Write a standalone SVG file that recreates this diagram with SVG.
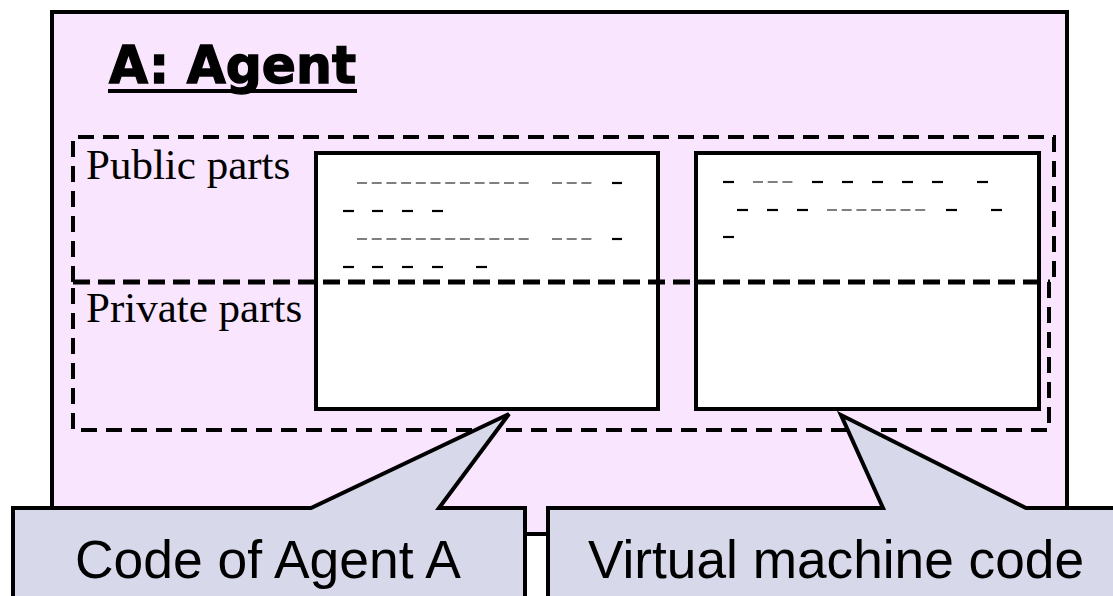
<svg xmlns="http://www.w3.org/2000/svg" width="1113" height="596" viewBox="0 0 1113 596">
  <style>
    .frame { fill: #f9e5fd; stroke: #000; stroke-width: 4; }
    .dash { fill: none; stroke: #000; stroke-width: 4; stroke-dasharray: 16 9; }
    .divide { fill: none; stroke: #000; stroke-width: 5; stroke-dasharray: 17 8; }
    .box { fill: #fff; stroke: #000; stroke-width: 4; }
    .callout { fill: #d7d8ea; stroke: #000; stroke-width: 4; stroke-linejoin: miter; }
    .part { font-family: "Liberation Serif", "Times New Roman", serif; font-size: 43px; fill: #000; }
    .note { font-family: "Liberation Sans", Arial, sans-serif; font-size: 54px; fill: #000; }
    .title { font-family: "DejaVu Sans", sans-serif; font-weight: bold; font-size: 51px; fill: #000; stroke: #000; stroke-width: 1.4; }
    .run { stroke: #555; stroke-width: 1.6; stroke-dasharray: 10 4.7; }
    .bar { stroke: #000; stroke-width: 2.2; }
  </style>

  <!-- agent frame -->
  <g id="agent">
    <rect class="frame" x="52" y="12" width="1015" height="522"/>
    <text class="title" x="109" y="83" textLength="247" lengthAdjust="spacingAndGlyphs">A: Agent</text>
    <rect x="108" y="89" width="249" height="4" fill="#000"/>
  </g>

  <!-- public part region (bottom edge is the shared divider) -->
  <g id="public-parts">
    <path class="dash" d="M73,282 V137 H1054 V282"/>
    <text class="part" x="86" y="179">Public parts</text>
  </g>

  <!-- private part region (top edge is the shared divider) -->
  <g id="private-parts">
    <path class="dash" d="M1049,282 V430 H73 V282"/>
    <text class="part" x="86" y="322">Private parts</text>
  </g>

  <!-- agent code box -->
  <g id="agent-code">
    <rect class="box" x="316" y="153" width="342" height="256"/>
    <line class="run" x1="357" y1="183" x2="530" y2="183"/>
    <line class="run" x1="552" y1="183" x2="592" y2="183"/>
    <line class="bar" x1="612" y1="183" x2="622" y2="183"/>
    <line class="bar" x1="343" y1="211" x2="354" y2="211"/>
    <line class="bar" x1="372" y1="211" x2="383" y2="211"/>
    <line class="bar" x1="402" y1="211" x2="413" y2="211"/>
    <line class="bar" x1="432" y1="211" x2="443" y2="211"/>
    <line class="run" x1="357" y1="239" x2="530" y2="239"/>
    <line class="run" x1="552" y1="239" x2="592" y2="239"/>
    <line class="bar" x1="612" y1="239" x2="622" y2="239"/>
    <line class="bar" x1="343" y1="267" x2="354" y2="267"/>
    <line class="bar" x1="372" y1="267" x2="383" y2="267"/>
    <line class="bar" x1="402" y1="267" x2="413" y2="267"/>
    <line class="bar" x1="432" y1="267" x2="443" y2="267"/>
    <line class="bar" x1="476" y1="267" x2="487" y2="267"/>
  </g>

  <!-- virtual machine code box -->
  <g id="vm-code">
    <rect class="box" x="696" y="153" width="343" height="256"/>
    <line class="bar" x1="723" y1="182" x2="734" y2="182"/>
    <line class="run" x1="753" y1="182" x2="793" y2="182"/>
    <line class="bar" x1="812" y1="182" x2="823" y2="182"/>
    <line class="bar" x1="842" y1="182" x2="853" y2="182"/>
    <line class="bar" x1="872" y1="182" x2="883" y2="182"/>
    <line class="bar" x1="902" y1="182" x2="913" y2="182"/>
    <line class="bar" x1="932" y1="182" x2="943" y2="182"/>
    <line class="bar" x1="977" y1="182" x2="988" y2="182"/>
    <line class="bar" x1="737" y1="210" x2="748" y2="210"/>
    <line class="bar" x1="767" y1="210" x2="778" y2="210"/>
    <line class="bar" x1="797" y1="210" x2="808" y2="210"/>
    <line class="run" x1="827" y1="210" x2="926" y2="210"/>
    <line class="bar" x1="946" y1="210" x2="957" y2="210"/>
    <line class="bar" x1="991" y1="210" x2="1002" y2="210"/>
    <line class="bar" x1="723" y1="237" x2="734" y2="237"/>
  </g>

  <!-- public/private boundary drawn across the code boxes -->
  <g id="divider">
    <line class="divide" x1="73" y1="282" x2="1050" y2="282"/>
  </g>

  <!-- callouts -->
  <g id="callout-agent">
    <path class="callout" d="M13,508 H311 L509,414 L439,508 H525 V600 H13 Z"/>
    <text class="note" x="75" y="578" textLength="386" lengthAdjust="spacingAndGlyphs">Code of Agent A</text>
  </g>
  <g id="callout-vm">
    <path class="callout" d="M548,508 H883 L841,415 L1026,508 H1117 V600 H548 Z"/>
    <text class="note" x="588" y="578" textLength="496" lengthAdjust="spacingAndGlyphs">Virtual machine code</text>
  </g>
</svg>
